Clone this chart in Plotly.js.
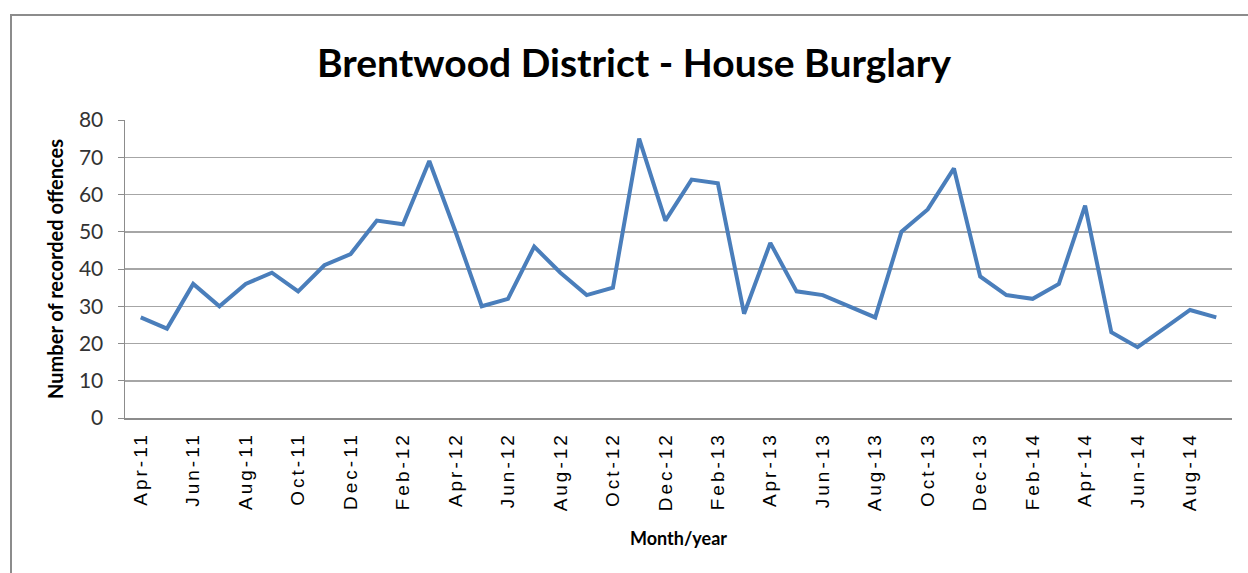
<!DOCTYPE html>
<html><head><meta charset="utf-8">
<script src="https://cdn.plot.ly/plotly-3.0.1.min.js"></script>
<style>
html,body{margin:0;padding:0;background:#fff;}
#frame{position:absolute;left:10px;top:14px;width:1260px;height:600px;border-top:2px solid #8c8c8c;border-left:2px solid #8c8c8c;box-sizing:border-box;}
#chart{position:absolute;left:0;top:0;width:1248px;height:573px;}
#chart .xtick text{letter-spacing:3px;}
</style></head><body>
<div id="frame"></div>
<div id="chart"></div>
<script>
const months = ["Apr-11","May-11","Jun-11","Jul-11","Aug-11","Sep-11","Oct-11","Nov-11","Dec-11","Jan-12","Feb-12","Mar-12",
"Apr-12","May-12","Jun-12","Jul-12","Aug-12","Sep-12","Oct-12","Nov-12","Dec-12","Jan-13","Feb-13","Mar-13",
"Apr-13","May-13","Jun-13","Jul-13","Aug-13","Sep-13","Oct-13","Nov-13","Dec-13","Jan-14","Feb-14","Mar-14",
"Apr-14","May-14","Jun-14","Jul-14","Aug-14","Sep-14"];
const offences = [27,24,36,30,36,39,34,41,44,53,52,69,
50,30,32,46,39,33,35,75,53,64,63,28,
47,34,33,30,27,50,56,67,38,33,32,36,
57,23,19,24,29,27];
const tickLabels = months.filter((m,i)=>i%2===0);
const yTicks = [0,10,20,30,40,50,60,70,80];

const trace = {x: months, y: offences, type:'scatter', mode:'lines',
  line:{color:'#4a7ebb', width:4}, hoverinfo:'x+y'};
const layout = {
  width:1248, height:573,
  margin:{l:125, r:16, t:120, b:155},
  paper_bgcolor:'rgba(0,0,0,0)', plot_bgcolor:'rgba(0,0,0,0)',
  showlegend:false,
  title:{text:'<b>Brentwood District - House Burglary</b>', x:0.508, xanchor:'center', y:0.89, yanchor:'middle',
    font:{family:'Lato, sans-serif', size:39, color:'#000'}},
  xaxis:{type:'category', range:[-0.6,41.6], tickvals:tickLabels, ticktext:tickLabels, tickangle:-90,
    showgrid:false, showline:true, linecolor:'#8c8c8c', linewidth:1.5, ticks:'', zeroline:false, ticklabelstandoff:5,
    tickfont:{family:'Liberation Sans, Arial, sans-serif', size:19, color:'#000'},
    title:{text:'<b>Month/year</b>', standoff:40, font:{family:'Lato, sans-serif', size:18, color:'#000'}}},
  yaxis:{range:[0,80], tickvals:yTicks, showgrid:true, gridcolor:'#a6a6a6', gridwidth:1.5,
    showline:true, linecolor:'#8c8c8c', linewidth:1.5, ticks:'outside', ticklen:6, tickcolor:'#8c8c8c', zeroline:false,
    ticklabelstandoff:10,
    tickfont:{family:'Lato, sans-serif', size:21, color:'#333'},
    title:{text:'<b>Number of recorded offences</b>', standoff:10, font:{family:'Lato, sans-serif', size:20, color:'#000'}}}
};
Plotly.newPlot('chart',[trace],layout,{displayModeBar:false, staticPlot:true});
</script>
</body></html>
